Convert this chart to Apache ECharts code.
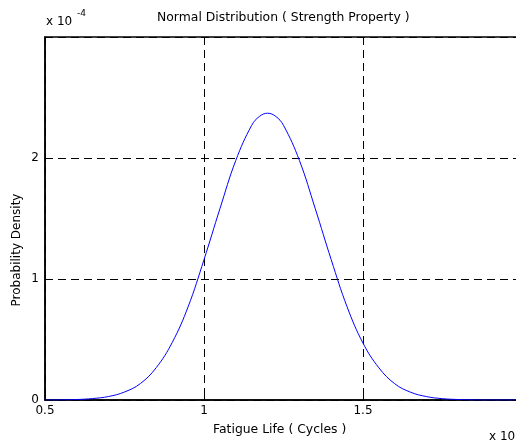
<!DOCTYPE html>
<html>
<head>
<meta charset="utf-8">
<script src="https://cdn.jsdelivr.net/npm/echarts@6/dist/echarts.min.js"></script>
<style>
    html, body { margin: 0; padding: 0; background: #fff; overflow: hidden; }
    #chart { width: 516px; height: 441px; }
</style>
</head>
<body>
<div id="chart"></div>
<script>
// fatigue life, in units of 10^4 cycles
let fatigueLife = [
    0.50, 0.55, 0.60, 0.65, 0.70, 0.75, 0.80, 0.85, 0.90, 0.95,
    1.00, 1.05, 1.10, 1.15, 1.175, 1.20, 1.225, 1.25, 1.30, 1.35, 1.40, 1.45,
    1.50, 1.55, 1.60, 1.65, 1.70, 1.75, 1.80, 1.85, 1.90, 1.95, 2.00
];
// probability density, in units of 10^-4
let density = [
    0.000, 0.001, 0.004, 0.012, 0.029, 0.066, 0.136, 0.268, 0.475, 0.770,
    1.160, 1.580, 1.980, 2.270, 2.345, 2.370, 2.345, 2.270, 1.980, 1.580, 1.160, 0.770,
    0.470, 0.266, 0.134, 0.064, 0.028, 0.011, 0.004, 0.001, 0.000, 0.000, 0.000
];
let xTicks = [0.5, 1, 1.5, 2];
let yTicks = [0, 1, 2];

let chart = echarts.init(document.getElementById("chart"));

let points = [];
for (let i = 0; i < fatigueLife.length; i++) {
    points.push([fatigueLife[i], density[i]]);
}

let font = "DejaVu Sans, sans-serif";

chart.setOption({
    animation: false,
    textStyle: { fontFamily: font },
    grid: {
        left: 45,
        top: 37,
        width: 477,
        bottom: 41,
        outerBoundsMode: "none",
        containLabel: false,
        show: true,
        borderColor: "#000",
        borderWidth: 1.5,
    },
    xAxis: {
        type: "value",
        min: xTicks[0],
        max: xTicks[xTicks.length - 1],
        interval: 0.5,
        axisLine: { onZero: false, lineStyle: { color: "#000", width: 1.5 } },
        axisTick: { inside: true, length: 5, lineStyle: { color: "#000" } },
        axisLabel: { color: "#000", fontSize: 12, fontFamily: font, margin: 5 },
        splitLine: {
            show: true,
            lineStyle: { color: "#000", type: [8, 5], width: 1 },
        },
    },
    yAxis: {
        type: "value",
        min: 0,
        max: 3,
        interval: 1,
        axisLine: { lineStyle: { color: "#000", width: 1.5 } },
        axisTick: { inside: true, length: 5, lineStyle: { color: "#000" } },
        axisLabel: {
            color: "#000",
            fontSize: 12,
            fontFamily: font,
            margin: 6,
            formatter: function (v) {
                return yTicks.indexOf(v) >= 0 ? String(v) : "";
            },
        },
        splitLine: {
            show: true,
            lineStyle: { color: "#000", type: [8, 5], width: 1 },
        },
    },
    series: {
        type: "line",
        data: points,
        smooth: 0.4,
        showSymbol: false,
        lineStyle: { color: "#0000ff", width: 1 },
        z: 5,
    },
    graphic: [
        {
            type: "text",
            left: 157,
            top: 12,
            style: {
                text: "Normal Distribution ( Strength Property )",
                fill: "#000",
                font: "12.4px " + font,
            },
        },
        {
            type: "text",
            left: 213,
            top: 424,
            style: {
                text: "Fatigue Life ( Cycles )",
                fill: "#000",
                font: "12.4px " + font,
            },
        },
        {
            type: "text",
            x: 11,
            y: 250,
            rotation: Math.PI / 2,
            style: {
                text: "Probability Density",
                fill: "#000",
                font: "12px " + font,
                align: "center",
                verticalAlign: "top",
            },
        },
        {
            type: "text",
            left: 46,
            top: 16,
            style: { text: "x 10", fill: "#000", font: "12px " + font },
        },
        {
            type: "text",
            left: 77,
            top: 9,
            style: { text: "-4", fill: "#000", font: "9px " + font },
        },
        {
            type: "text",
            left: 489,
            top: 431,
            style: { text: "x 10", fill: "#000", font: "12px " + font },
        },
    ],
});
</script>
</body>
</html>
